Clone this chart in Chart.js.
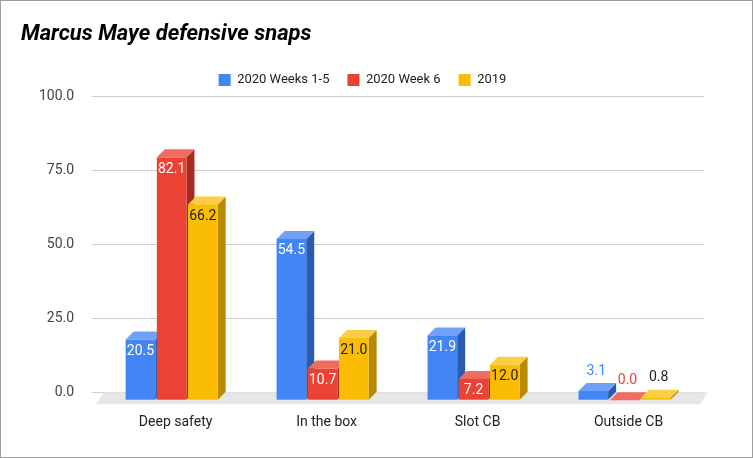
<!DOCTYPE html>
<html><head><meta charset="utf-8">
<script src="https://cdn.jsdelivr.net/npm/chart.js@4"></script>
<style>html,body{margin:0;padding:0;background:#fff}
#w{width:751px;height:456px;border:1px solid #9e9e9e;position:relative}</style>
</head><body><div id="w"><canvas id="c"></canvas></div>
<script>
const categories = ["Deep safety","In the box","Slot CB","Outside CB"];
const seriesNames = ["2020 Weeks 1-5","2020 Week 6","2019"];
const weeks1to5 = [20.5,54.5,21.9,3.1];
const week6 = [82.1,10.7,7.2,0.0];
const season2019 = [66.2,21.0,12.0,0.8];
const yTicks = [0,25,50,75,100];
const colors = ["#4285f4","#ea4335","#fbbc04"];
const sides = ["#2a5bb0","#a82a20","#b88a00"];
const tops = ["#6fa1f7","#f06b60","#fccd45"];
const labelIn = ["#fff","#fff","#222"];
const D = 8;

const bars3d = {
  id:'bars3d',
  beforeDatasetsDraw(chart){
    const ctx=chart.ctx, ca=chart.chartArea, base=chart.scales.y.getPixelForValue(0);
    ctx.save();ctx.fillStyle='#e6e6e6';
    ctx.beginPath();ctx.moveTo(ca.left+4,base);ctx.lineTo(ca.right+4,base);
    ctx.lineTo(ca.right-4,base+D+4);ctx.lineTo(ca.left-4,base+D+4);ctx.closePath();ctx.fill();
    ctx.restore();
  },
  afterDatasetsDraw(chart){
    const ctx=chart.ctx;
    ctx.save();
    chart.data.datasets.forEach((ds,i)=>{
      const meta=chart.getDatasetMeta(i);
      meta.data.forEach((el,j)=>{
        const v=ds.data[j];
        const w=el.width, xl=el.x-w/2-D/2, xr=xl+w;
        const yt=el.y+D, yb=el.base+D;
        ctx.fillStyle=sides[i];ctx.beginPath();
        ctx.moveTo(xr,yt);ctx.lineTo(xr+D,yt-D);ctx.lineTo(xr+D,yb-D);ctx.lineTo(xr,yb);ctx.closePath();ctx.fill();
        ctx.fillStyle=tops[i];ctx.beginPath();
        ctx.moveTo(xl,yt);ctx.lineTo(xl+D,yt-D);ctx.lineTo(xr+D,yt-D);ctx.lineTo(xr,yt);ctx.closePath();ctx.fill();
        ctx.fillStyle=colors[i];ctx.fillRect(xl,yt,w,yb-yt);
        ctx.font='14px Roboto';ctx.textAlign='center';ctx.textBaseline='middle';
        if(yb-yt>16){ctx.fillStyle=labelIn[i];ctx.fillText(v.toFixed(1),el.x-D/2,yt+12);}
        else{ctx.fillStyle=i==2?'#222':colors[i];ctx.fillText(v.toFixed(1),el.x-D/2+3,yt-20);}
      });
    });
    ctx.restore();
  }
};

new Chart(document.getElementById('c'),{
  type:'bar',
  data:{labels:categories,datasets:[weeks1to5,week6,season2019].map((d,i)=>({
    label:seriesNames[i],data:d,backgroundColor:colors[i],borderWidth:0,
    categoryPercentage:0.62,barPercentage:0.95}))},
  options:{responsive:true,maintainAspectRatio:false,animation:false,
    layout:{padding:{left:20,right:48,top:14,bottom:12}},
    plugins:{
      title:{display:true,text:'Marcus Maye defensive snaps',align:'start',
        font:{family:'Roboto',size:22,weight:'bold',style:'italic'},color:'#000',padding:{top:6,bottom:8}},
      legend:{labels:{boxWidth:12,boxHeight:12,font:{family:'Roboto',size:13},color:'#222',padding:18}},
      tooltip:{enabled:false}},
    scales:{
      x:{grid:{display:false},border:{display:false},
        ticks:{font:{family:'Roboto',size:14},color:'#222',padding:14}},
      y:{min:0,max:100,afterBuildTicks(a){a.ticks=yTicks.map(v=>({value:v}));},
        border:{display:false},grid:{color:'#cccccc'},
        ticks:{font:{family:'Roboto',size:14},color:'#444',padding:18,callback:v=>v.toFixed(1)}}}
  },
  plugins:[{id:'hide',beforeDatasetDraw(){return false;}},bars3d]
});
</script></body></html>
